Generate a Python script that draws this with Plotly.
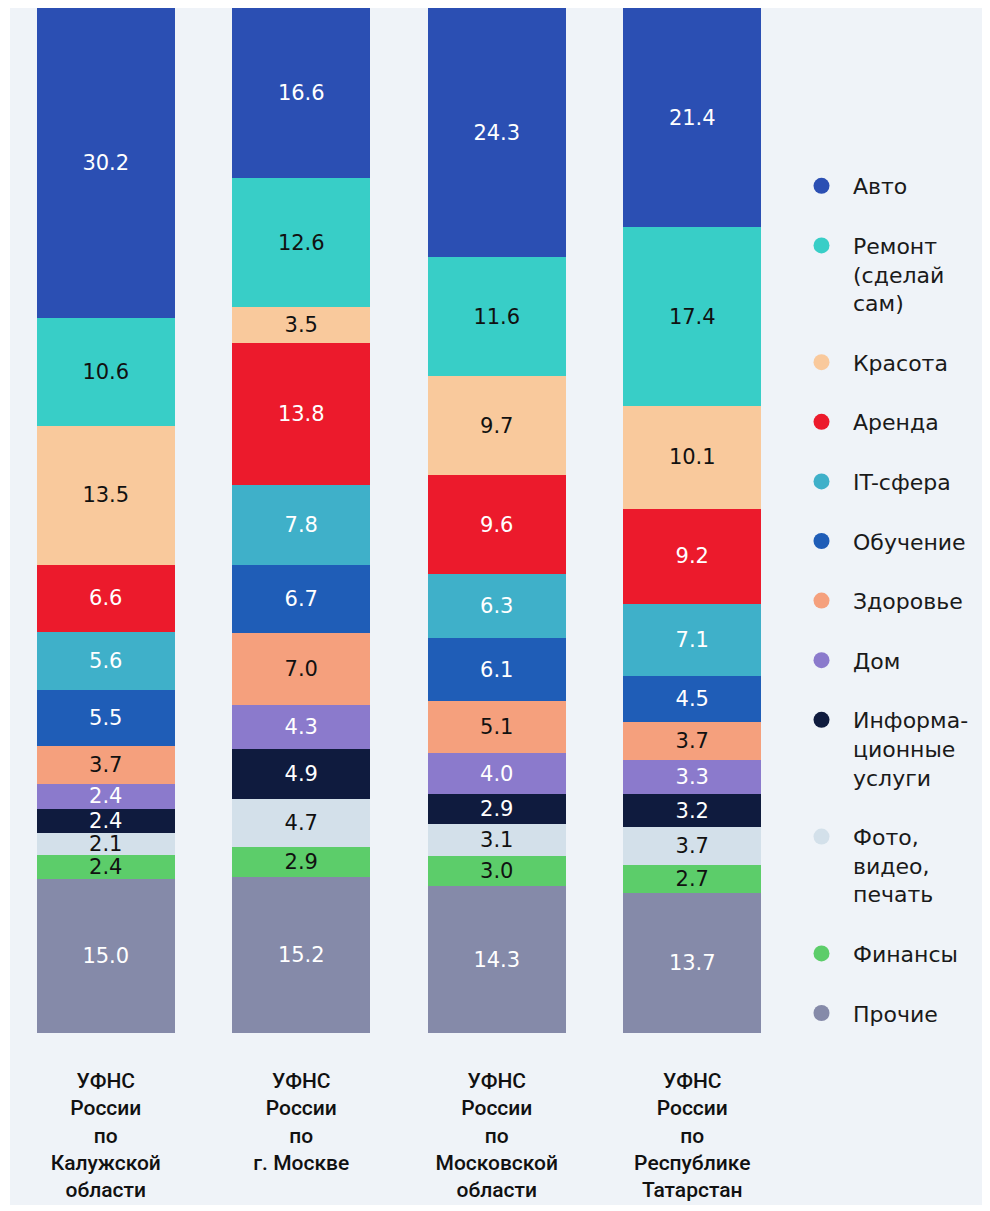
import plotly.graph_objects as go

regions = [
    "УФНС<br>России<br>по<br>Калужской<br>области",
    "УФНС<br>России<br>по<br>г. Москве",
    "УФНС<br>России<br>по<br>Московской<br>области",
    "УФНС<br>России<br>по<br>Республике<br>Татарстан",
]

# stacked from top to bottom (legend order)
categories = ["Авто", "Ремонт<br>(сделай<br>сам)", "Красота", "Аренда", "IT-сфера", "Обучение",
              "Здоровье", "Дом", "Информа-<br>ционные<br>услуги", "Фото,<br>видео,<br>печать",
              "Финансы", "Прочие"]

avto      = [30.2, 16.6, 24.3, 21.4]
remont    = [10.6, 12.6, 11.6, 17.4]
krasota   = [13.5, 3.5, 9.7, 10.1]
arenda    = [6.6, 13.8, 9.6, 9.2]
it_sfera  = [5.6, 7.8, 6.3, 7.1]
obuchenie = [5.5, 6.7, 6.1, 4.5]
zdorovie  = [3.7, 7.0, 5.1, 3.7]
dom       = [2.4, 4.3, 4.0, 3.3]
inform    = [2.4, 4.9, 2.9, 3.2]
foto      = [2.1, 4.7, 3.1, 3.7]
finansy   = [2.4, 2.9, 3.0, 2.7]
prochie   = [15.0, 15.2, 14.3, 13.7]

series = [avto, remont, krasota, arenda, it_sfera, obuchenie, zdorovie, dom, inform, foto, finansy, prochie]
colors = ["#2b4fb3", "#38cec7", "#f9c99c", "#ec1a2c", "#3fb0c9", "#1f5db7",
          "#f5a07d", "#8b7acc", "#0f1b3e", "#d3e0ea", "#5ccd6a", "#858aa9"]
text_colors = ["white", "#111111", "#111111", "white", "white", "white",
               "#111111", "white", "white", "#111111", "#111111", "white"]

fig = go.Figure()

# bars: bottom first
for i in reversed(range(len(categories))):
    fig.add_trace(go.Bar(
        x=regions, y=series[i], name=categories[i],
        marker=dict(color=colors[i], line=dict(width=0)),
        texttemplate="%{y:.1f}", textposition="inside", insidetextanchor="middle",
        textangle=0, constraintext="none",
        textfont=dict(family="DejaVu Sans", size=21, color=text_colors[i]),
        showlegend=False, hoverinfo="skip",
    ))

# legend entries with circular symbols
for i, name in enumerate(categories):
    fig.add_trace(go.Scatter(
        x=[None], y=[None], mode="markers", name=name,
        marker=dict(symbol="circle", size=16, color=colors[i]),
        legendgroup=f"g{i}", showlegend=True,
    ))

OFF = 8              # page body margin
L, T, W, H = 0, 0, 782, 1025

def px_x(p):          # page pixel -> paper x
    return (p - OFF - L) / W

def px_y(p):          # page pixel -> paper y
    return (OFF + T + H - p) / H

fig.add_shape(type="rect", xref="paper", yref="paper",
              x0=px_x(10), x1=px_x(985), y0=px_y(1205), y1=px_y(0),
              fillcolor="#eff3f8", line=dict(width=0), layer="below")

fig.update_layout(
    width=990, height=1211,
    barmode="stack", bargap=0.294,
    margin=dict(l=L, r=990 - L - W, t=T, b=1211 - T - H),
    paper_bgcolor="white", plot_bgcolor="rgba(0,0,0,0)",
    legend=dict(
        x=px_x(790), xanchor="left", y=px_y(165), yanchor="top",
        font=dict(family="DejaVu Sans", size=22, color="#1a1a1a"),
        tracegroupgap=28, valign="top", traceorder="grouped",
        itemwidth=53,
        bgcolor="rgba(0,0,0,0)",
    ),
    xaxis=dict(
        range=[-0.5, 3.5], showgrid=False, zeroline=False, showline=False,
        ticks="", tickfont=dict(family="Roboto", size=21, color="#111111", weight=500),
        ticklabelstandoff=33,
    ),
    yaxis=dict(range=[0, 100], visible=False),
)

fig.write_html("out.html")
